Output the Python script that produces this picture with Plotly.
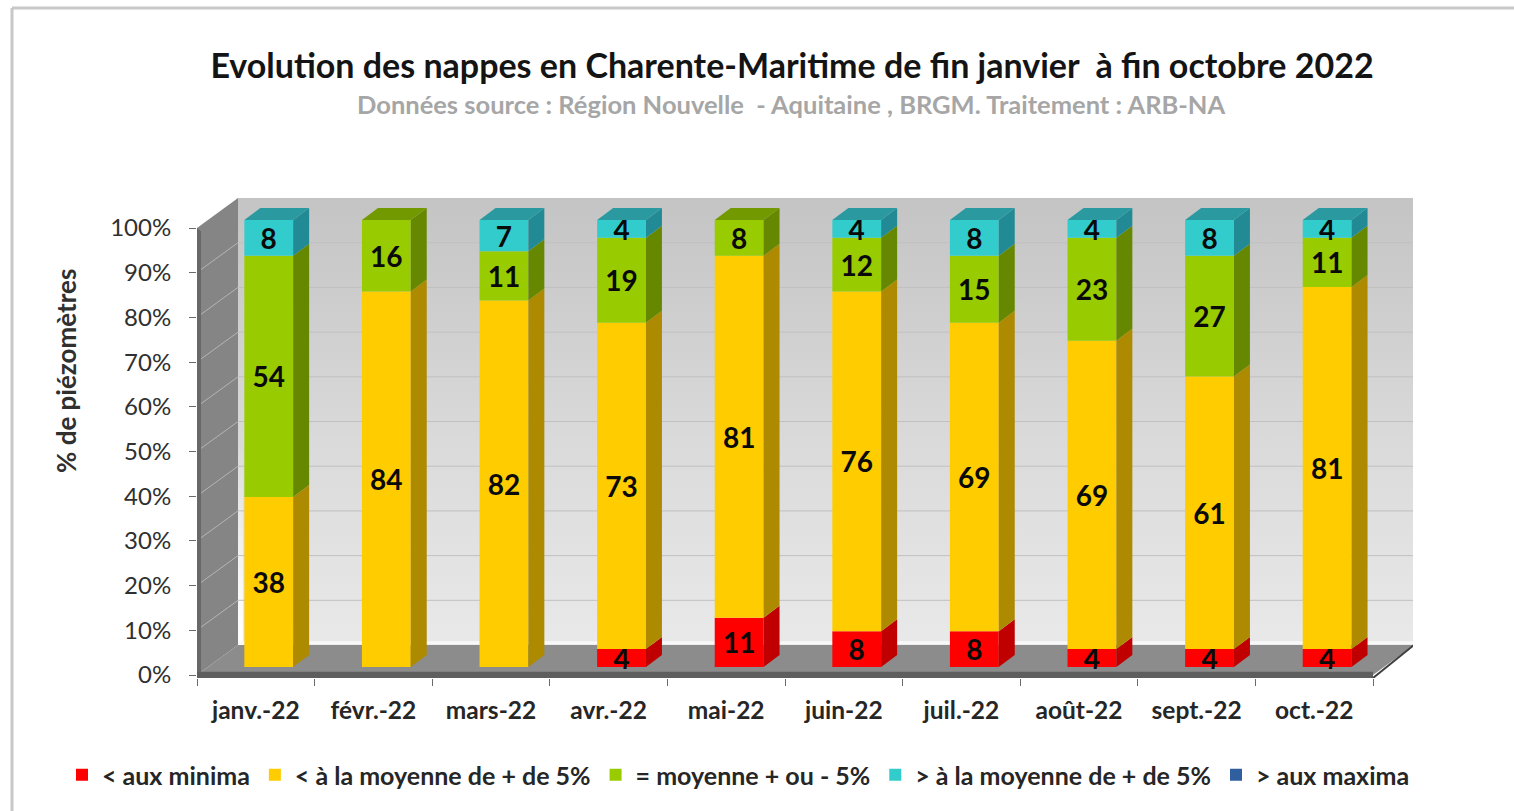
import plotly.graph_objects as go

# ---------- data ----------
months = ["janv.-22", "févr.-22", "mars-22", "avr.-22", "mai-22", "juin-22", "juil.-22", "août-22", "sept.-22", "oct.-22"]
minima = [0, 0, 0, 4, 11, 8, 8, 4, 4, 4]
sous_moyenne = [38, 84, 82, 73, 81, 76, 69, 69, 61, 81]
moyenne = [54, 16, 11, 19, 8, 12, 15, 23, 27, 11]
sur_moyenne = [8, 0, 7, 4, 0, 4, 8, 4, 8, 4]
maxima = [0, 0, 0, 0, 0, 0, 0, 0, 0, 0]

names = ["< aux minima", "< à la moyenne de + de 5%", "= moyenne + ou - 5%", "> à la moyenne de + de 5%", "> aux maxima"]
series = [minima, sous_moyenne, moyenne, sur_moyenne, maxima]
front_colors = ["#ff0000", "#ffcc00", "#99cc00", "#33cccc", "#2f5f9f"]
side_colors = ["#c00000", "#ad8a00", "#668800", "#228a94", "#1f3f6a"]
top_colors = ["#d00000", "#c09a00", "#739900", "#2a9aa0", "#25497a"]
y_ticks = list(range(0, 101, 10))
y_tick_labels = [f"{t}%" for t in y_ticks]

title_text = "Evolution des nappes en Charente-Maritime de fin janvier  à fin octobre 2022"
subtitle_text = "Données source : Région Nouvelle  - Aquitaine , BRGM. Traitement : ARB-NA"
y_title = "% de piézomètres"

# ---------- 3D projection settings ----------
W, H = 1514, 811
FONT = "Lato"
cat_px = 117.6
pct_px = 4.47
x0_px, xr_px = 197, 1413        # plot area, pixels
ytop_px, ybot_px = 198, 678
zero_px = 675
x_lo, x_hi = -0.5, (xr_px - x0_px) / cat_px - 0.5
y_lo, y_hi = (zero_px - ybot_px) / pct_px, (zero_px - ytop_px) / pct_px
wall_dx, wall_dy = 41 / cat_px, 30 / pct_px      # depth of the box
bar_dx, bar_dy = 16 / cat_px, 12 / pct_px        # depth of a bar
bar_shift, bar_w, bar_base = 0.11, 0.415, 1.8
n = len(months)
x_front_end = x_lo + n

fig = go.Figure()


def poly(xs, ys, color, xa="x", ya="y", grad=None):
    kw = dict(fillgradient=grad) if grad else dict(fillcolor=color)
    fig.add_trace(go.Scatter(x=xs, y=ys, mode="lines", fill="toself", line=dict(width=0),
                             hoverinfo="skip", showlegend=False, xaxis=xa, yaxis=ya, **kw))


def line(xs, ys, color, width=1, xa="x", ya="y"):
    fig.add_trace(go.Scatter(x=xs, y=ys, mode="lines", line=dict(color=color, width=width),
                             hoverinfo="skip", showlegend=False, xaxis=xa, yaxis=ya))


# back wall
wb, wt = wall_dy, 100 + wall_dy
bx0, bx1 = x_lo + wall_dx, x_front_end + wall_dx
poly([bx0, bx1, bx1, bx0, bx0], [wb, wb, wt, wt, wb], None,
     grad=dict(type="vertical", colorscale=[[0, "#e9e9e9"], [0.45, "#dadada"], [1, "#c4c4c4"]]))
# soft halo at the foot of the wall
poly([bx0, bx0 + 5 / cat_px, bx0 + 5 / cat_px, bx0, bx0], [wb, wb, wb + 45, wb + 45, wb], None,
     grad=dict(type="vertical", colorscale=[[0, "rgba(255,255,255,1)"], [1, "rgba(255,255,255,0)"]]))
# right edge shadow of the wall
line([bx1, bx1], [wb, wt], "#a8a8a8", 2)
# wall grid lines
gx, gy = [], []
for t in y_ticks[1:]:
    gx += [bx0, bx1, None]
    gy += [t + wall_dy, t + wall_dy, None]
line(gx, gy, "#c0c0c0", 1)
line([bx0, bx1], [wb + 0.5, wb + 0.5], "#f8f8f8", 3)

# left wall
poly([x_lo, bx0, bx0, x_lo, x_lo], [0, wb, wt, 100, 0], "#858585")
poly([x_lo, x_lo + 4 / cat_px, x_lo + 4 / cat_px, x_lo, x_lo],
     [0, 0, 100 - 0.7, 100, 0], "#686868")
lx, ly = [], []
for t in y_ticks[1:-1]:
    lx += [x_lo + 4 / cat_px, bx0, None]
    ly += [t + 0.7, t + wall_dy, None]
line(lx, ly, "#b5b5b5", 1)

# floor
poly([x_lo, x_front_end, bx1, bx0, x_lo], [0, 0, wb, wb, 0], "#8c8c8c")
poly([x_lo, x_front_end, x_front_end, x_lo, x_lo], [y_lo, y_lo, 0.7, 0.7, y_lo], "#5e5e5e")
line([x_front_end, bx1], [y_lo, wb], "#3f3f3f", 2)

# bars: side faces, top faces and fronts, all derived from the data
cum = [bar_base] * n
top_index = [max((k for k, s in enumerate(series) if s[i] > 0)) for i in range(n)]
for k, values in enumerate(series):
    sx, sy, tx, ty = [], [], [], []
    for i, v in enumerate(values):
        if v <= 0:
            continue
        xr = i + bar_shift + bar_w / 2
        lo, hi = cum[i], cum[i] + v
        sx += [xr, xr + bar_dx, xr + bar_dx, xr, xr, None]
        sy += [lo, lo + bar_dy, hi + bar_dy, hi, lo, None]
        if top_index[i] == k:
            xl = xr - bar_w
            tx += [xl, xr, xr + bar_dx, xl + bar_dx, xl, None]
            ty += [hi, hi, hi + bar_dy, hi + bar_dy, hi, None]
    if sx:
        poly(sx, sy, side_colors[k], "x2", "y2")
    if tx:
        poly(tx, ty, top_colors[k], "x2", "y2")
    fig.add_trace(go.Bar(
        x=[i + bar_shift for i in range(n)], y=values, base=list(cum), width=bar_w,
        name=names[k], marker=dict(color=front_colors[k], line=dict(width=0)),
        text=[str(v) if v else "" for v in values], textposition="inside",
        insidetextanchor="middle", constraintext="none", textangle=0,
        textfont=dict(family=FONT, size=28, color="#0a0a0a", weight="bold"),
        hovertemplate="%{text}<extra>" + names[k] + "</extra>",
        xaxis="x2", yaxis="y2"))
    cum = [c + v for c, v in zip(cum, values)]

boundaries = [x_lo + i for i in range(n + 1)]
xdom = [x0_px / W, xr_px / W]
ydom = [1 - ybot_px / H, 1 - ytop_px / H]
tick_font = dict(family=FONT, size=24.5, color="#262626", weight="bold")

fig.update_layout(
    width=W, height=H, margin=dict(l=0, r=0, t=0, b=0, autoexpand=False),
    paper_bgcolor="white", plot_bgcolor="white", barmode="overlay",
    title=dict(text=title_text, x=792 / W, xanchor="center", y=1 - 66 / H, yanchor="middle",
               font=dict(family=FONT, size=34, color="#141414", weight="bold")),
    xaxis=dict(domain=xdom, range=[x_lo, x_hi], tickvals=boundaries, ticktext=[""] * (n + 1),
               ticks="outside", ticklen=7, tickcolor="#6a6a6a", showgrid=False, zeroline=False,
               showline=False, anchor="y"),
    yaxis=dict(domain=ydom, range=[y_lo, y_hi], tickvals=y_ticks, ticktext=y_tick_labels,
               ticks="outside", ticklen=7, tickcolor="#6a6a6a", showgrid=False, zeroline=False,
               showline=False, tickfont=dict(family=FONT, size=24, color="#303030"),
               ticklabelstandoff=13, anchor="x"),
    xaxis2=dict(domain=xdom, range=[x_lo, x_hi], overlaying="x", tickmode="array",
                tickvals=list(range(n)), ticktext=months, ticks="", showgrid=False,
                zeroline=False, showline=False, tickfont=tick_font, ticklabelstandoff=15,
                anchor="y2", side="bottom"),
    yaxis2=dict(domain=ydom, range=[y_lo, y_hi], overlaying="y", visible=False, anchor="x2"),
    legend=dict(orientation="h", x=62 / W, xanchor="left", y=1 - 775 / H, yanchor="middle",
                traceorder="normal", bgcolor="rgba(0,0,0,0)",
                font=dict(family=FONT, size=25, color="#262626", weight="bold")),
    annotations=[
        dict(text=subtitle_text, xref="paper", yref="paper", x=791 / W, y=1 - 104 / H, showarrow=False,
             xanchor="center", yanchor="middle",
             font=dict(family=FONT, size=25.5, color="#a6a6a6", weight="bold")),
        dict(text=y_title, xref="paper", yref="paper", x=66 / W, y=1 - 371 / H, showarrow=False,
             textangle=-90, xanchor="center", yanchor="middle",
             font=dict(family=FONT, size=26, color="#303030", weight="bold")),
    ],
    shapes=[
        dict(type="line", xref="paper", yref="paper", x0=12 / W, x1=1, y0=1 - 8 / H, y1=1 - 8 / H,
             line=dict(color="#c8c8c8", width=3), layer="below"),
        dict(type="line", xref="paper", yref="paper", x0=12 / W, x1=12 / W, y0=0, y1=1 - 8 / H,
             line=dict(color="#c8c8c8", width=3), layer="below"),
    ],
)

fig.write_html("out.html", post_script="document.body.style.margin='0';document.body.style.overflow='hidden';",
               config=dict(displayModeBar=False))
